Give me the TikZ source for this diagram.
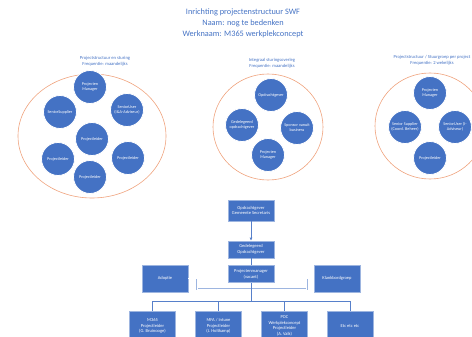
\documentclass[tikz,border=0pt]{standalone}
\usepackage{fontspec}
\setmainfont{Carlito}
\usepackage{tikz}
\usepackage{xcolor}
\usetikzlibrary{arrows.meta}

\definecolor{swfblue}{HTML}{4472C4}
\definecolor{swfrim}{HTML}{9DB5E0}
\definecolor{swforange}{HTML}{EFA27C}

\begin{document}
\begin{tikzpicture}[x=1pt, y=-1pt,
    rol/.style={circle, fill=swfblue, draw=white, line width=0.8pt, minimum size=33pt,
        inner sep=0pt, text=white, align=center, font=\fontsize{4.2}{5}\selectfont},
    kop/.style={text=swfblue, align=center, font=\fontsize{4.6}{6}\selectfont},
    blok/.style={rectangle, fill=swfblue, draw=swfrim, line width=0.6pt, text=white,
        align=center, minimum width=46pt, inner sep=1pt, font=\fontsize{4.5}{5.6}\selectfont},
    lijn/.style={draw=swfblue!90, line width=0.7pt},
    dubbel/.style={draw=swfrim, double=white, double distance=0.7pt, line width=0.5pt},
    ovaal/.style={draw=swforange, line width=0.6pt}]

    \useasboundingbox (0,0) rectangle (472,337);
    \clip (0,0) rectangle (472,337);

    \node[kop, font=\fontsize{8.3}{11}\selectfont] (titel) at (243,23)
        {Inrichting projectenstructuur SWF\\Naam: nog te bedenken\\Werknaam: M365 werkplekconcept};

    % projectstructuur en sturing
    \node[kop] (kopsturing) at (105,61) {Projectstructuur en sturing\\Frequentie: maandelijks};
    \draw[ovaal] (92,136) ellipse [x radius=74, y radius=62];
    \node[rol] (pmA) at (90,87) {Projecten\\Manager};
    \node[rol] (suA) at (127,110) {SeniorUser\\(I\&A-Adviseur)};
    \node[rol] (ssA) at (60,112) {SeniorSupplier};
    \node[rol] (plA) at (92,139) {Projectleider};
    \node[rol] (plB) at (58,159) {Projectleider};
    \node[rol] (plC) at (128,158) {Projectleider};
    \node[rol] (plD) at (90,177) {Projectleider};

    % integraal sturingsoverleg
    \node[kop] (kopintegraal) at (272,63) {Integraal sturingsoverleg\\Frequentie: maandelijks};
    \draw[ovaal] (268,127) ellipse [x radius=55, y radius=53];
    \node[rol] (ogB) at (271,95) {Opdrachtgever};
    \node[rol] (gdB) at (242,125) {Gedelegeerd\\opdrachtgever};
    \node[rol] (spB) at (297,128) {Sponsor vanuit\\business};
    \node[rol] (pmB) at (268,155) {Projecten\\Manager};

    % stuurgroep per project
    \node[kop] (kopstuur) at (432,60) {Projectstructuur / Stuurgroep per project\\Frequentie: 2 wekelijks};
    \draw[ovaal] (430,126) ellipse [x radius=55, y radius=53];
    \node[rol] (pmC) at (430,93) {Projecten\\Manager};
    \node[rol] (ssC) at (405,127) {Senior Supplier\\(Coord. Beheer)};
    \node[rol] (suC) at (455,127) {SeniorUser (I-\\Adviseur)};
    \node[rol] (plE) at (430,158) {Projectleider};

    % organigram
    \node[blok, minimum height=21pt] (og) at (251,210.5) {Opdrachtgever\\Gemeente Secretaris};
    \node[blok, minimum height=17pt] (gdo) at (251,249.5) {Gedelegeerd\\Opdrachtgever};
    \node[blok, minimum height=17pt] (pm) at (251,274) {Projectenmanager\\(vacant)};
    \node[blok, minimum height=27pt] (adoptie) at (165,278.5) {Adoptie};
    \node[blok, minimum height=27pt] (klank) at (337,278.5) {Klankbordgroep};
    \node[blok, minimum height=30pt] (m365) at (152.5,326) {M365\\Projectleider\\(G. Bruinooge)};
    \node[blok, minimum height=30pt] (mfa) at (218.5,326) {MFA / Intune\\Projectleider\\(J. Holtkamp)};
    \node[blok, minimum height=30pt] (poc) at (284.5,326) {POC\\Werkplekconcept\\Projectleider\\(A. Valk)};
    \node[blok, minimum height=30pt] (etc) at (350,326) {Etc etc etc};

    \coordinate (aansluit) at (251,289);
    \coordinate (splits) at (251,301);

    \draw[dubbel] (adoptie.east) -- ++(9,0) |- (aansluit);
    \draw[dubbel] (klank.west) -- ++(-7,0) |- (aansluit);
    \draw[lijn, -{Latex[length=3pt, width=3pt]}] (og) -- (gdo);
    \draw[lijn] (gdo) -- (pm);
    \draw[lijn] (pm) -- (splits);
    \foreach \n in {m365, mfa, poc, etc}
        \draw[lijn] (splits) -| (\n.north);
\end{tikzpicture}
\end{document}
